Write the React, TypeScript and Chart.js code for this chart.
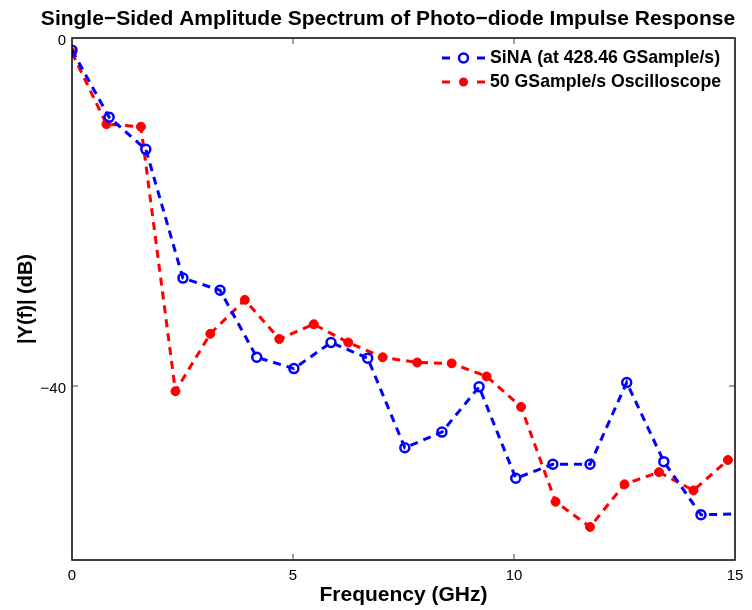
import React, { useEffect, useRef } from 'react';
import { Chart, registerables } from 'chart.js';

Chart.register(...registerables);

const chartTitle = 'Single\u2212Sided Amplitude Spectrum of Photo\u2212diode Impulse Response';
const xAxisTitle = 'Frequency (GHz)';
const yAxisTitle = '|Y(f)| (dB)';
const sinaLabel = 'SiNA (at 428.46 GSample/s)';
const scopeLabel = '50 GSample/s Oscilloscope';

const xTicks = [0, 5, 10, 15];
const yTicks = [0, -40];

const sinaFreq = [0, 0.84, 1.67, 2.51, 3.35, 4.18, 5.02, 5.86, 6.69, 7.53, 8.37, 9.21, 10.04, 10.88, 11.72, 12.55, 13.39, 14.23, 15.06];
const sinaDb = [-1.4, -9.1, -12.8, -27.6, -29.0, -36.7, -38.0, -35.0, -36.8, -47.1, -45.3, -40.1, -50.6, -49.0, -49.0, -39.6, -48.7, -54.8, -54.7];

const scopeFreq = [0, 0.78, 1.56, 2.34, 3.13, 3.91, 4.69, 5.47, 6.25, 7.03, 7.81, 8.59, 9.38, 10.16, 10.94, 11.72, 12.5, 13.28, 14.06, 14.84];
const scopeDb = [-1.7, -9.9, -10.2, -40.6, -34.0, -30.1, -34.6, -32.9, -35.0, -36.7, -37.3, -37.4, -38.9, -42.4, -53.3, -56.2, -51.3, -49.9, -52.0, -48.5];

const FONT = '"Liberation Sans", Arial, Helvetica, sans-serif';
const BLUE = '#0000ff';
const RED = '#ff0000';

const framePlugin = {
  id: 'frame',
  afterDraw(chart: any) {
    const { ctx, chartArea: a, scales } = chart;
    ctx.save();
    ctx.setLineDash([]);
    ctx.strokeStyle = '#000';
    ctx.lineWidth = 1.5;
    ctx.strokeRect(a.left, a.top, a.right - a.left, a.bottom - a.top);
    ctx.lineWidth = 1;
    ctx.strokeStyle = '#444';
    const seg = (x1: number, y1: number, x2: number, y2: number) => {
      ctx.beginPath();
      ctx.moveTo(x1, y1);
      ctx.lineTo(x2, y2);
      ctx.stroke();
    };
    xTicks.forEach((v) => {
      const px = scales.x.getPixelForValue(v);
      seg(px, a.bottom, px, a.bottom - 6);
      seg(px, a.top, px, a.top + 6);
    });
    yTicks.forEach((v) => {
      const py = scales.y.getPixelForValue(v);
      seg(a.left, py, a.left + 6, py);
      seg(a.right, py, a.right - 6, py);
    });
    // title
    ctx.fillStyle = '#000';
    ctx.font = 'bold 21px ' + FONT;
    ctx.textAlign = 'center';
    ctx.textBaseline = 'middle';
    ctx.fillText(chartTitle, 388, 19);
    // legend
    const items = [
      { label: sinaLabel, color: BLUE, filled: false, y: 58 },
      { label: scopeLabel, color: RED, filled: true, y: 82 },
    ];
    items.forEach((it) => {
      ctx.strokeStyle = it.color;
      ctx.lineWidth = 3;
      seg(442, it.y, 450, it.y);
      seg(477, it.y, 485, it.y);
      ctx.beginPath();
      ctx.arc(463.5, it.y, 4.5, 0, Math.PI * 2);
      if (it.filled) {
        ctx.fillStyle = it.color;
        ctx.fill();
      } else {
        ctx.lineWidth = 2.5;
        ctx.stroke();
      }
      ctx.fillStyle = '#000';
      ctx.font = 'bold 17.7px ' + FONT;
      ctx.textAlign = 'left';
      ctx.textBaseline = 'middle';
      ctx.fillText(it.label, 490, it.y);
    });
    ctx.restore();
  },
};

export default function App() {
  const canvasRef = useRef<HTMLCanvasElement | null>(null);

  useEffect(() => {
    if (!canvasRef.current) return;
    Chart.defaults.font.family = FONT;
    const chart = new Chart(canvasRef.current, {
      type: 'line',
      data: {
        datasets: [
          {
            label: sinaLabel,
            data: sinaFreq.map((f, i) => ({ x: f, y: sinaDb[i] })),
            borderColor: BLUE,
            backgroundColor: 'rgba(0,0,0,0)',
            borderWidth: 3,
            borderDash: [8, 6],
            pointRadius: (c: any) => (c.raw && c.raw.x > 15 ? 0 : 4.5),
            pointBorderWidth: 2.5,
            pointBorderColor: BLUE,
            pointBackgroundColor: 'rgba(0,0,0,0)',
            tension: 0,
          },
          {
            label: scopeLabel,
            data: scopeFreq.map((f, i) => ({ x: f, y: scopeDb[i] })),
            borderColor: RED,
            backgroundColor: RED,
            borderWidth: 3,
            borderDash: [8, 6],
            pointRadius: 4.5,
            pointBorderWidth: 1,
            pointBorderColor: RED,
            pointBackgroundColor: RED,
            tension: 0,
          },
        ],
      },
      options: {
        animation: false,
        responsive: false,
        layout: { padding: { top: 38, right: 17, left: 0, bottom: 0 } },
        plugins: {
          legend: { display: false },
          title: { display: false },
          tooltip: { enabled: false },
        },
        scales: {
          x: {
            type: 'linear',
            min: 0,
            max: 15,
            afterBuildTicks: (s: any) => {
              s.ticks = xTicks.map((v) => ({ value: v }));
            },
            afterFit: (s: any) => {
              s.height = 50;
            },
            ticks: {
              color: '#000',
              font: { size: 15 },
              padding: 7,
              maxRotation: 0,
              callback: (v: any) => String(v),
            },
            grid: { display: false, drawTicks: false },
            border: { display: false },
            title: {
              display: true,
              text: xAxisTitle,
              color: '#000',
              font: { size: 21, weight: 'bold' },
              padding: { top: 0, bottom: 2 },
            },
          },
          y: {
            type: 'linear',
            min: -60,
            max: 0,
            afterBuildTicks: (s: any) => {
              s.ticks = yTicks.map((v) => ({ value: v }));
            },
            afterFit: (s: any) => {
              s.width = 72;
            },
            ticks: {
              color: '#000',
              font: { size: 15 },
              padding: 6,
              labelOffset: 3,
              callback: (v: any) => (v < 0 ? '\u2212' + Math.abs(v) : String(v)),
            },
            grid: { display: false, drawTicks: false },
            border: { display: false },
            title: {
              display: true,
              text: yAxisTitle,
              color: '#000',
              font: { size: 20, weight: 'bold' },
              padding: { top: 14, bottom: 0 },
            },
          },
        },
      },
      plugins: [framePlugin],
    } as any);
    return () => chart.destroy();
  }, []);

  return (
    <div style={{ position: 'absolute', left: 0, top: 0, width: 752, height: 610, background: '#fff' }}>
      <canvas ref={canvasRef} width={752} height={610} style={{ display: 'block' }} />
    </div>
  );
}
